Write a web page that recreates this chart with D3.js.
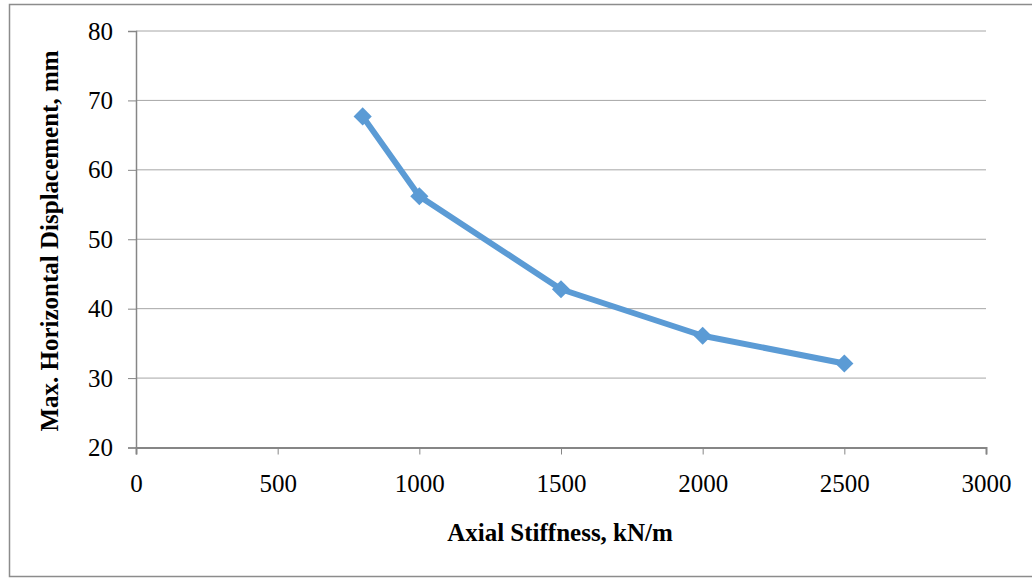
<!DOCTYPE html>
<html><head><meta charset="utf-8">
<script src="https://cdn.jsdelivr.net/npm/d3@7"></script>
<style>body{margin:0;background:#fff}svg{display:block}</style>
</head><body>
<script>
const stiffness = [800, 1000, 1500, 2000, 2500];
const displacement = [67.7, 56.2, 42.8, 36.1, 32.1];
const xTicks = [0, 500, 1000, 1500, 2000, 2500, 3000];
const yTicks = [20, 30, 40, 50, 60, 70, 80];
const xTitle = "Axial Stiffness, kN/m";
const yTitle = "Max. Horizontal Displacement, mm";

const W = 1032, H = 578;
const svg = d3.select("body").append("svg").attr("width", W).attr("height", H);
svg.append("rect").attr("x", 9.5).attr("y", 4.5).attr("width", W + 10).attr("height", 572)
  .attr("fill", "#fff").attr("stroke", "#8c8c8c").attr("stroke-width", 1.5);

const x = d3.scaleLinear().domain([0, 3000]).range([136, 986]);
const y = d3.scaleLinear().domain([20, 80]).range([447.5, 31]);
const font = "'Liberation Serif','Times New Roman',serif";

// gridlines
svg.append("g").selectAll("line").data(yTicks.filter(d => d > 20)).join("line")
  .attr("x1", x(0)).attr("x2", x(3000)).attr("y1", d => y(d)).attr("y2", d => y(d))
  .attr("stroke", "#a6a6a6").attr("stroke-width", 1);

// y axis
const ya = svg.append("g").attr("transform", `translate(${x(0)},0)`)
  .call(d3.axisLeft(y).tickValues(yTicks).tickFormat(d3.format("d")).tickSize(8).tickPadding(15));
ya.attr("font-family", null).attr("font-size", null);
ya.select(".domain").attr("stroke", "#868686").attr("stroke-width", 1.5);
ya.selectAll(".tick line").attr("stroke", "#868686").attr("stroke-width", 1);
ya.selectAll("text").style("font-family", font).style("font-size", "25px").attr("fill", "#000");

// x axis
const xa = svg.append("g").attr("transform", `translate(0,${y(20)})`)
  .call(d3.axisBottom(x).tickValues(xTicks).tickFormat(d3.format("d")).tickSize(7).tickPadding(20));
xa.attr("font-family", null).attr("font-size", null);
xa.select(".domain").attr("stroke", "#868686").attr("stroke-width", 2);
xa.selectAll(".tick line").attr("stroke", "#868686").attr("stroke-width", 1);
xa.selectAll("text").style("font-family", font).style("font-size", "25px").attr("fill", "#000");
ya.select(".domain").raise();

// line
const pts = stiffness.map((s, i) => [s, displacement[i]]);
svg.append("path").datum(pts)
  .attr("d", d3.line().x(d => x(d[0])).y(d => y(d[1])))
  .attr("fill", "none").attr("stroke", "#5b9bd5").attr("stroke-width", 6).attr("stroke-linejoin", "round");
svg.append("g").selectAll("path").data(pts).join("path")
  .attr("d", d3.symbol().type(d3.symbolSquare).size(165))
  .attr("transform", d => `translate(${x(d[0])},${y(d[1])}) rotate(45)`)
  .attr("fill", "#5b9bd5");

// titles
svg.append("text").attr("x", 560).attr("y", 541).attr("text-anchor", "middle")
  .style("font-family", font).style("font-weight", "bold").style("font-size", "25px").text(xTitle);
svg.append("text").attr("transform", "translate(58,241) rotate(-90)").attr("text-anchor", "middle")
  .style("font-family", font).style("font-weight", "bold").style("font-size", "25px").text(yTitle);
</script>
</body></html>
